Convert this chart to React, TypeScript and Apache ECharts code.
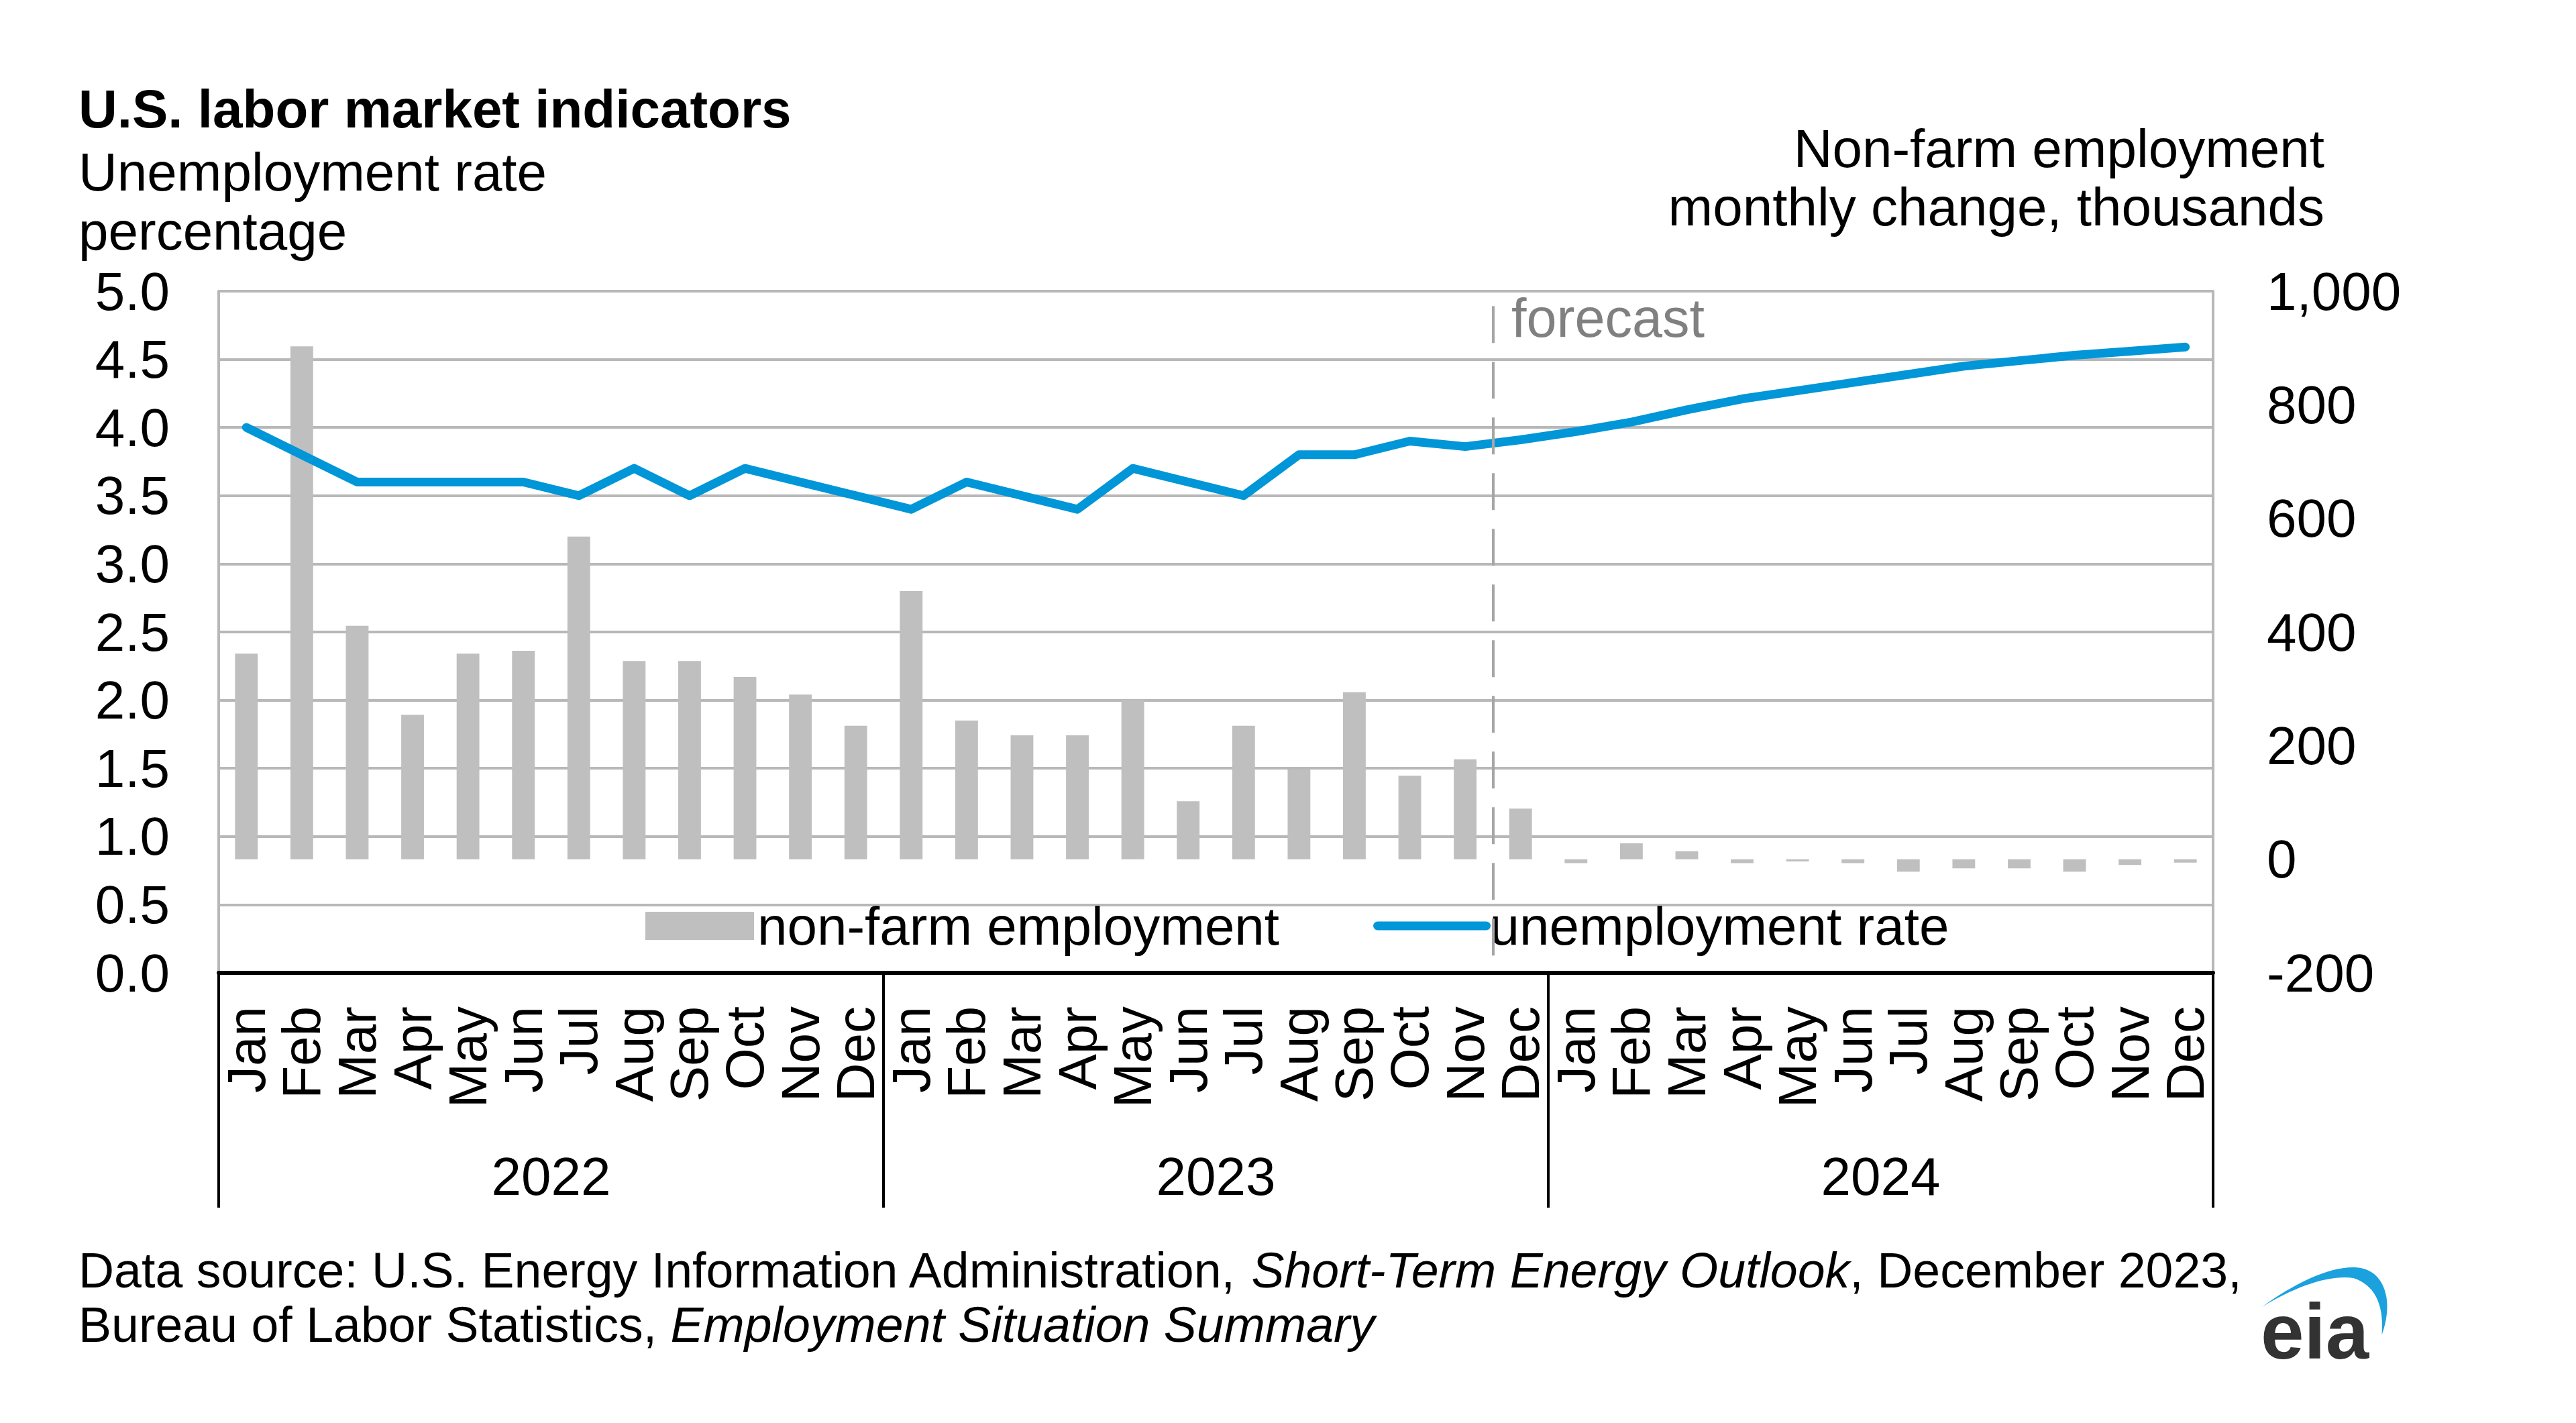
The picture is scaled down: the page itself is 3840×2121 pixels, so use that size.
import React, { useEffect, useRef } from "react";
import * as echarts from "echarts";

// ---------- data ----------
const monthLabels = ["Jan", "Feb", "Mar", "Apr", "May", "Jun", "Jul", "Aug", "Sep", "Oct", "Nov", "Dec"];
const years = ["2022", "2023", "2024"];

// Non-farm employment monthly change, thousands (right axis)
const nonfarm2022 = [362, 903, 411, 254, 362, 367, 568, 349, 349, 321, 290, 235];
const nonfarm2023 = [472, 244, 218, 218, 281, 102, 235, 158, 294, 147, 176, 89];
const nonfarm2024 = [-7, 28, 14, -7, -4, -7, -22, -16, -16, -22, -10, -6];

// Unemployment rate, percentage (left axis)
const unemp2022 = [4.0, 3.8, 3.6, 3.6, 3.6, 3.6, 3.5, 3.7, 3.5, 3.7, 3.6, 3.5];
const unemp2023 = [3.4, 3.6, 3.5, 3.4, 3.7, 3.6, 3.5, 3.8, 3.8, 3.9, 3.86, 3.91];
const unemp2024 = [3.97, 4.04, 4.13, 4.21, 4.27, 4.33, 4.39, 4.45, 4.49, 4.53, 4.56, 4.59];

const leftAxisTicks = { min: 0, max: 5, interval: 0.5 };
const rightAxisTicks = { min: -200, max: 1000, interval: 200 };

// forecast divider: boundary between Nov 2023 and Dec 2023 (month index 23 on a 0..36 scale)
const forecastBoundary = 23;
const forecastLineTop = 4.89;

const FONT = '"Liberation Sans", Arial, Helvetica, sans-serif';
const SWOOSH_PATH =
  "M95,295 C240,190 400,110 520,118 C640,126 690,260 632,420 C642,300 612,200 505,165 C400,150 250,200 95,295 Z";

let shapeRegistered = false;
function ensureShape() {
  if (!shapeRegistered) {
    echarts.graphic.registerShape("eiaSwoosh", echarts.graphic.extendPath(SWOOSH_PATH, {}) as any);
    shapeRegistered = true;
  }
}

function textEl(text: string, x: number, y: number, opts: any = {}) {
  return {
    type: "text",
    x,
    y,
    silent: true,
    style: {
      text,
      fontFamily: FONT,
      fontSize: 80,
      fill: "#000",
      align: "left",
      verticalAlign: "middle",
      ...opts,
    },
  };
}

const BLUE = "#0096D7";

export default function App() {
  const ref = useRef<HTMLDivElement>(null);

  useEffect(() => {
    document.body.style.margin = "0";
    ensureShape();
    if (!ref.current) return;
    const chart = echarts.init(ref.current, undefined, { renderer: "svg" });

    const categories: string[] = [];
    years.forEach(() => monthLabels.forEach((m) => categories.push(m)));
    const nonfarm = [...nonfarm2022, ...nonfarm2023, ...nonfarm2024];
    const unemp = [...unemp2022, ...unemp2023, ...unemp2024];

    const option: any = {
      animation: false,
      backgroundColor: "#ffffff",
      textStyle: { fontFamily: FONT },
      grid: { left: 326, top: 434, width: 2973, height: 1016, containLabel: false },
      legend: {
        show: true,
        left: 962,
        top: 1340,
        padding: 0,
        itemWidth: 162,
        itemHeight: 42,
        itemGap: 140,
        selectedMode: false,
        textStyle: { fontSize: 80, color: "#000", fontFamily: FONT },
        data: [
          { name: "non-farm employment", icon: "rect" },
          {
            name: "unemployment rate",
            lineStyle: { width: 13, color: BLUE, cap: "round" },
            itemStyle: { opacity: 0 },
          },
        ],
      },
      xAxis: [
        {
          type: "category",
          data: categories,
          position: "bottom",
          boundaryGap: true,
          axisLine: { show: true, onZero: false, lineStyle: { color: "#000", width: 6 } },
          axisTick: { show: false },
          axisLabel: {
            interval: 0,
            rotate: 90,
            margin: 50,
            fontSize: 80,
            color: "#000",
            fontFamily: FONT,
          },
          splitLine: { show: false },
          z: 5,
        },
        {
          type: "category",
          data: years,
          position: "bottom",
          boundaryGap: true,
          axisLine: { show: false, onZero: false },
          axisTick: { show: true, length: 350, interval: 0, lineStyle: { color: "#000", width: 4 } },
          axisLabel: { interval: 0, margin: 263, fontSize: 80, color: "#000", fontFamily: FONT },
          splitLine: { show: false },
        },
        { type: "value", min: 0, max: 36, show: false, axisLine: { onZero: false } },
      ],
      yAxis: [
        {
          type: "value",
          position: "left",
          min: leftAxisTicks.min,
          max: leftAxisTicks.max,
          interval: leftAxisTicks.interval,
          axisLine: { show: true, onZero: false, lineStyle: { color: "#B8B8B8", width: 4 } },
          axisTick: { show: false },
          axisLabel: {
            formatter: (v: number) => v.toFixed(1),
            fontSize: 80,
            color: "#000",
            margin: 73,
            fontFamily: FONT,
          },
          splitLine: { show: true, lineStyle: { color: "#B8B8B8", width: 4 } },
        },
        {
          type: "value",
          position: "right",
          min: rightAxisTicks.min,
          max: rightAxisTicks.max,
          interval: rightAxisTicks.interval,
          axisLine: { show: true, onZero: false, lineStyle: { color: "#B8B8B8", width: 4 } },
          axisTick: { show: false },
          axisLabel: {
            formatter: (v: number) => v.toLocaleString("en-US"),
            fontSize: 80,
            color: "#000",
            margin: 80,
            fontFamily: FONT,
          },
          splitLine: { show: false },
        },
      ],
      series: [
        {
          name: "non-farm employment",
          type: "bar",
          xAxisIndex: 0,
          yAxisIndex: 1,
          data: nonfarm,
          barWidth: "41%",
          itemStyle: { color: "#BFBFBF" },
          z: 2,
        },
        {
          name: "forecast divider",
          type: "line",
          xAxisIndex: 2,
          yAxisIndex: 0,
          data: [[forecastBoundary, 0]],
          symbol: "none",
          lineStyle: { opacity: 0 },
          silent: true,
          markLine: {
            silent: true,
            symbol: ["none", "none"],
            label: { show: false },
            lineStyle: { color: "#A6A6A6", width: 4, type: [55, 28] },
            data: [[{ coord: [forecastBoundary, forecastLineTop] }, { coord: [forecastBoundary, 0] }]],
          },
          z: 3,
        },
        {
          name: "unemployment rate",
          type: "line",
          xAxisIndex: 0,
          yAxisIndex: 0,
          data: unemp,
          symbol: "none",
          showSymbol: false,
          lineStyle: { color: BLUE, width: 13, cap: "round", join: "round" },
          itemStyle: { color: BLUE },
          z: 4,
        },
      ],
      graphic: [
        textEl("U.S. labor market indicators", 117, 162, { fontWeight: "bold" }),
        textEl("Unemployment rate", 117, 256),
        textEl("percentage", 117, 344),
        textEl("Non-farm employment", 3465, 221, { align: "right" }),
        textEl("monthly change, thousands", 3465, 308, { align: "right" }),
        textEl("forecast", 2253, 474, { fill: "#808080", fontSize: 81 }),
        textEl(
          "Data source: U.S. Energy Information Administration, {i|Short-Term Energy Outlook}, December 2023,",
          117,
          1893,
          { fontSize: 73.5, rich: { i: { fontStyle: "italic", fontSize: 73.5, fontFamily: FONT } } }
        ),
        textEl("Bureau of Labor Statistics, {i|Employment Situation Summary}", 117, 1974, {
          fontSize: 73.5,
          rich: { i: { fontStyle: "italic", fontSize: 73.5, fontFamily: FONT } },
        }),
        {
          type: "eiaSwoosh",
          x: 3340,
          y: 1850,
          scaleX: 1 / 3,
          scaleY: 1 / 3,
          silent: true,
          style: { fill: "#1BA1DD" },
        },
        textEl("eia", 3370, 1985, { fontSize: 116, fontWeight: "bold", fill: "#333333" }),
      ],
    };

    chart.setOption(option);
    return () => {
      chart.dispose();
    };
  }, []);

  return <div ref={ref} style={{ width: 3840, height: 2121 }} />;
}
